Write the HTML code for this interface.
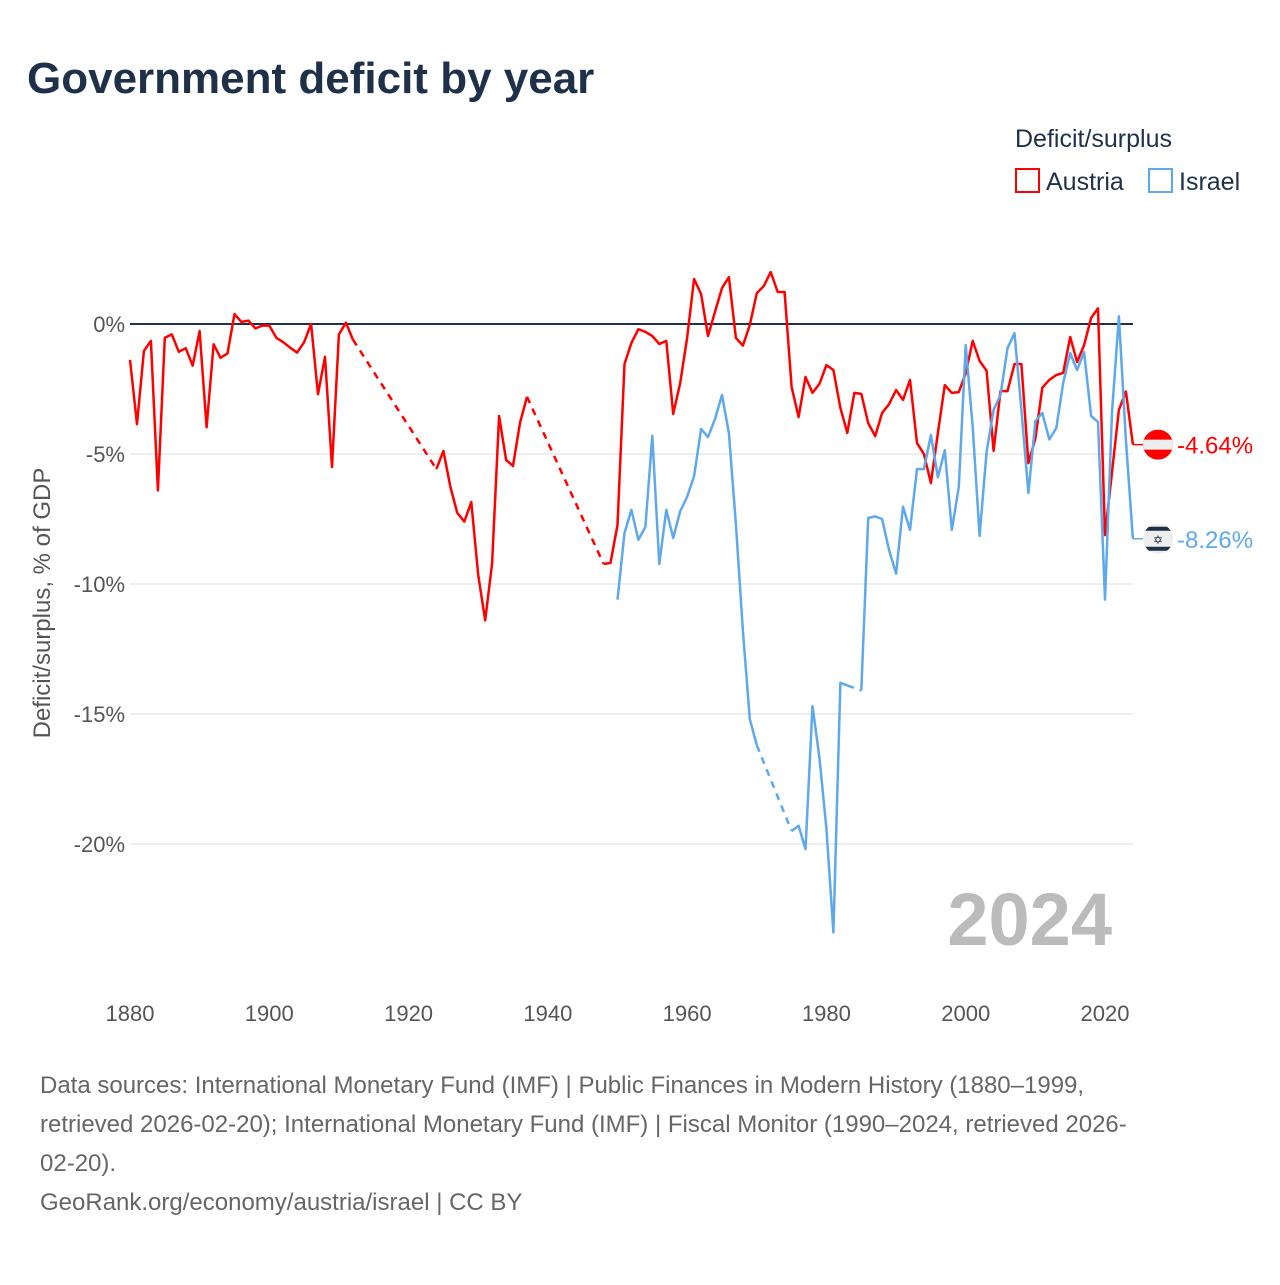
<!DOCTYPE html>
<html><head><meta charset="utf-8">
<style>
body{margin:0;background:#fff;width:1280px;height:1280px;overflow:hidden;font-family:"Liberation Sans",sans-serif;}
svg text{font-family:"Liberation Sans",sans-serif;}
</style></head>
<body>
<svg id="chart" width="1280" height="1280" xmlns="http://www.w3.org/2000/svg">
<text x="27" y="93" font-size="44" font-weight="bold" fill="#1f3049">Government deficit by year</text>
<text x="1015" y="147" font-size="25" fill="#1f3049">Deficit/surplus</text>
<g><rect x="1016" y="169" width="23" height="23" fill="none" stroke="#f00" stroke-width="2"/><text x="1046" y="190" font-size="25" fill="#1f3049">Austria</text></g>
<g><rect x="1149" y="169" width="23" height="23" fill="none" stroke="#5fa8ec" stroke-width="2"/><text x="1179" y="190" font-size="25" fill="#1f3049">Israel</text></g>
<text transform="translate(50,603) rotate(-90)" text-anchor="middle" font-size="24" fill="#555">Deficit/surplus, % of GDP</text>
<text x="1112" y="945" text-anchor="end" font-size="74" font-weight="bold" fill="#bbb">2024</text>
<g id="grid"></g><g id="series"></g>
<g font-size="24" fill="#666">
<text x="40" y="1093">Data sources: International Monetary Fund (IMF) | Public Finances in Modern History (1880–1999,</text>
<text x="40" y="1132">retrieved 2026-02-20); International Monetary Fund (IMF) | Fiscal Monitor (1990–2024, retrieved 2026-</text>
<text x="40" y="1171">02-20).</text>
<text x="40" y="1210">GeoRank.org/economy/austria/israel | CC BY</text>
</g>
</svg>
<script>
const yTicks=[0,-5,-10,-15,-20];
const xTicks=[1880,1900,1920,1940,1960,1980,2000,2020];
const austriaStart=1880;
const austria=[-1.38,-3.85,-1.04,-0.65,-6.4,-0.53,-0.4,-1.07,-0.93,-1.6,-0.27,-3.97,-0.78,-1.3,-1.13,0.38,0.08,0.13,-0.17,-0.06,-0.06,-0.53,-0.7,-0.91,-1.1,-0.7,0,-2.7,-1.26,-5.5,-0.4,0.05,-0.6,
null,null,null,null,null,null,null,null,null,null,null,
-5.58,-4.88,-6.27,-7.27,-7.6,-6.85,-9.65,-11.4,-9.2,-3.54,-5.23,-5.46,-3.8,-2.8,
null,null,null,null,null,null,null,null,null,null,
-9.23,-9.19,-7.73,-1.54,-0.73,-0.2,-0.3,-0.46,-0.77,-0.65,-3.46,-2.27,-0.54,1.73,1.15,-0.46,0.47,1.38,1.8,-0.54,-0.83,-0.04,1.19,1.46,2.0,1.23,1.23,-2.42,-3.58,-2.04,-2.65,-2.3,
-1.58,-1.77,-3.23,-4.19,-2.65,-2.69,-3.81,-4.31,-3.42,-3.08,-2.54,-2.92,-2.15,-4.58,-5.0,-6.12,-4.19,-2.35,-2.65,-2.62,
-1.9,-0.65,-1.42,-1.8,-4.88,-2.58,-2.58,-1.54,-1.54,-5.35,-4.4,-2.45,-2.15,-1.96,-1.88,-0.5,-1.46,-0.81,0.23,0.6,-8.12,-5.7,-3.3,-2.6,-4.64];
const israelStart=1950;
const israel=[-10.6,-8.04,-7.15,-8.3,-7.8,-4.3,-9.23,-7.15,-8.23,-7.2,-6.65,-5.85,-4.04,-4.35,-3.65,-2.73,-4.2,-7.7,-11.8,-15.2,-16.2,
null,null,null,null,-19.5,-19.3,-20.2,-14.7,-16.7,-19.4,-23.4,-13.8,-13.9,null,-14.1,
-7.46,-7.4,-7.5,-8.7,-9.6,-7.03,-7.92,-5.58,-5.58,-4.27,-5.9,-4.85,-7.92,-6.27,
-0.81,-3.96,-8.15,-4.92,-3.3,-2.73,-0.93,-0.35,-3.3,-6.5,-3.73,-3.42,-4.44,-4.0,-2.26,-1.12,-1.77,-1.08,-3.54,-3.77,-10.6,-3.4,0.3,-4.46,-8.26];
const X=y=>130+(y-1880)*(975/140);
const Y=v=>324-v*26;
const NS="http://www.w3.org/2000/svg";
const grid=document.getElementById('grid'),ser=document.getElementById('series');
function mk(tag,attrs,parent){const e=document.createElementNS(NS,tag);for(const k in attrs)e.setAttribute(k,attrs[k]);parent.appendChild(e);return e;}
yTicks.forEach(t=>{
 const l=mk('line',{x1:130,x2:1133,y1:Y(t),y2:Y(t),stroke:t===0?'#1f3049':'#e8e8e8','stroke-width':t===0?2:1.5},grid);
 
 
 const tx=mk('text',{x:125,y:Y(t)+8,'text-anchor':'end','font-size':22,fill:'#555'},grid);
 tx.textContent=t+'%';
 
 
});
xTicks.forEach(t=>{
 const tx=mk('text',{x:X(t),y:1021,'text-anchor':'middle','font-size':22,fill:'#555'},grid);
 tx.textContent=t;
 
 
});
function draw(vals,start,color,name){
 let solid='',dashed='',prev=null,seg=false;
 vals.forEach((v,i)=>{
  if(v===null)return;
  const x=X(start+i),y=Y(v);
  if(prev){
   if(prev.i===i-1){solid+=(seg?'L':'M')+x.toFixed(1)+' '+y.toFixed(1);if(!seg){}seg=true;}
   else{dashed+='M'+prev.x.toFixed(1)+' '+prev.y.toFixed(1)+'L'+x.toFixed(1)+' '+y.toFixed(1);solid+='M'+x.toFixed(1)+' '+y.toFixed(1);}
  } else solid+='M'+x.toFixed(1)+' '+y.toFixed(1);
  seg=true;prev={i,x,y};
 });
 const p=mk('path',{d:solid,fill:'none',stroke:color,'stroke-width':2.5,'stroke-linejoin':'round'},ser);
 
 
 const d=mk('path',{d:dashed,fill:'none',stroke:color,'stroke-width':2.5,'stroke-dasharray':'7 6'},ser);
 
 
 return prev;
}
const a=draw(austria,austriaStart,'#f00','austria');
const b=draw(israel,israelStart,'#5fa8ec','israel');
function endLabel(last,val,color,name,flag){
 const l=mk('line',{x1:last.x,x2:1145,y1:last.y,y2:last.y,stroke:color,'stroke-width':1.5},ser);
 
 
 const g=mk('g',{},ser);
 
 
 const cx=1158,cy=last.y,r=15;
 mk('clipPath',{id:'c'+name},g);
 mk('circle',{cx,cy,r},g.lastChild);
 const gg=mk('g',{'clip-path':'url(#c'+name+')'},g);
 if(flag==='at'){mk('rect',{x:cx-r,y:cy-r,width:30,height:30,fill:'#f00'},gg);mk('rect',{x:cx-r,y:cy-5,width:30,height:10,fill:'#eee'},gg);}
 else{mk('rect',{x:cx-r,y:cy-r,width:30,height:30,fill:'#eee'},gg);mk('rect',{x:cx-r,y:cy-12,width:30,height:4,fill:'#1f3049'},gg);mk('rect',{x:cx-r,y:cy+8,width:30,height:4,fill:'#1f3049'},gg);const s=mk('text',{x:cx,y:cy+5,'text-anchor':'middle','font-size':12,fill:'#1f3049'},gg);s.textContent='✡';}
 const t=mk('text',{x:1177,y:cy+9,'font-size':24,fill:color},ser);
 t.textContent=val.toFixed(2)+'%';
 
 
}
endLabel(a,austria[austria.length-1],'#f00','austria','at');
endLabel(b,israel[israel.length-1],'#5fa8ec','israel','il');
</script>
</body></html>
